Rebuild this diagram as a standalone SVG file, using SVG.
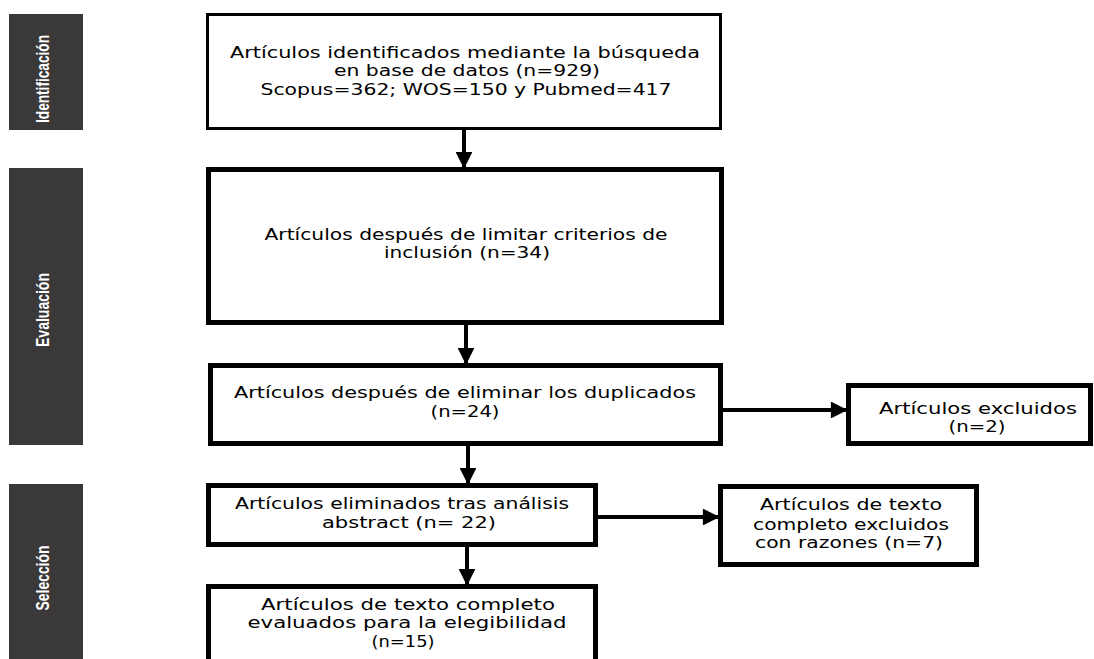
<svg xmlns="http://www.w3.org/2000/svg" width="1094" height="659" viewBox="0 0 1094 659">
<style>
.bar{fill:#3a3838}
.lab{font-family:"Liberation Sans",Arial,sans-serif;font-weight:bold;font-size:18px;fill:#fff;text-anchor:middle}
.box{fill:#fff;stroke:#000;stroke-width:5}
.t{font-family:"DejaVu Sans","Liberation Sans",sans-serif;font-size:15px;fill:#000;text-anchor:middle}
.ln{stroke:#000;stroke-width:4;fill:none}
</style>
<defs>
<marker id="ah" viewBox="0 0 10 10" refX="9" refY="5" markerWidth="4.5" markerHeight="4.2" markerUnits="strokeWidth" orient="auto">
<path d="M0,0 L10,5 L0,10 Z" fill="#000"/>
</marker>
</defs>
<rect width="1094" height="659" fill="#fff"/>
<g id="stage-identificacion">
<rect class="bar" x="9" y="14" width="74" height="116"/>
<text class="lab" transform="translate(49,79) rotate(-90)" textLength="88" lengthAdjust="spacingAndGlyphs">Identificación</text>
</g>
<g id="stage-evaluacion">
<rect class="bar" x="9" y="168" width="74" height="277"/>
<text class="lab" transform="translate(49,310) rotate(-90)" textLength="74" lengthAdjust="spacingAndGlyphs">Evaluación</text>
</g>
<g id="stage-seleccion">
<rect class="bar" x="9" y="484" width="74" height="180"/>
<text class="lab" transform="translate(49,578) rotate(-90)" textLength="65" lengthAdjust="spacingAndGlyphs">Selección</text>
</g>
<g id="connectors">
<line class="ln" x1="464" y1="130" x2="464" y2="167" marker-end="url(#ah)"/>
<line class="ln" x1="466" y1="325" x2="466" y2="363" marker-end="url(#ah)"/>
<line class="ln" x1="468" y1="446" x2="468" y2="483" marker-end="url(#ah)"/>
<line class="ln" x1="467" y1="547" x2="467" y2="584" marker-end="url(#ah)"/>
<line class="ln" x1="723" y1="410" x2="846" y2="410" marker-end="url(#ah)"/>
<line class="ln" x1="598" y1="517" x2="718" y2="517" marker-end="url(#ah)"/>
</g>
<g id="n1">
<rect class="box" x="207.5" y="14.5" width="513" height="114" style="stroke-width:3"/>
<text class="t" x="465" y="58" textLength="470" lengthAdjust="spacingAndGlyphs">Artículos identificados mediante la búsqueda</text>
<text class="t" x="467" y="76" textLength="266" lengthAdjust="spacingAndGlyphs">en base de datos (n=929)</text>
<text class="t" x="466" y="95" textLength="411" lengthAdjust="spacingAndGlyphs">Scopus=362; WOS=150 y Pubmed=417</text>
</g>
<g id="n2">
<rect class="box" x="208.5" y="169.5" width="513" height="153"/>
<text class="t" x="466" y="240" textLength="403" lengthAdjust="spacingAndGlyphs">Artículos después de limitar criterios de</text>
<text class="t" x="467" y="258" textLength="166" lengthAdjust="spacingAndGlyphs">inclusión (n=34)</text>
</g>
<g id="n3">
<rect class="box" x="210.5" y="365.5" width="510" height="78"/>
<text class="t" x="465" y="398" textLength="462" lengthAdjust="spacingAndGlyphs">Artículos después de eliminar los duplicados</text>
<text class="t" x="465" y="417" textLength="69" lengthAdjust="spacingAndGlyphs">(n=24)</text>
</g>
<g id="n-excluidos">
<rect class="box" x="848.5" y="385.5" width="242" height="58"/>
<text class="t" x="978" y="414" textLength="198" lengthAdjust="spacingAndGlyphs">Artículos excluidos</text>
<text class="t" x="977" y="432" textLength="57" lengthAdjust="spacingAndGlyphs">(n=2)</text>
</g>
<g id="n4">
<rect class="box" x="208.5" y="485.5" width="387" height="59"/>
<text class="t" x="402" y="509" textLength="334" lengthAdjust="spacingAndGlyphs">Artículos eliminados tras análisis</text>
<text class="t" x="409" y="528" textLength="174" lengthAdjust="spacingAndGlyphs">abstract (n= 22)</text>
</g>
<g id="n-texto-excluidos">
<rect class="box" x="720.5" y="486.5" width="256" height="78"/>
<text class="t" x="851" y="510" textLength="182" lengthAdjust="spacingAndGlyphs">Artículos de texto</text>
<text class="t" x="851" y="530" textLength="196" lengthAdjust="spacingAndGlyphs">completo excluidos</text>
<text class="t" x="849" y="548" textLength="188" lengthAdjust="spacingAndGlyphs">con razones (n=7)</text>
</g>
<g id="n5">
<rect class="box" x="208.5" y="586.5" width="387" height="100"/>
<text class="t" x="408" y="610" textLength="294" lengthAdjust="spacingAndGlyphs">Artículos de texto completo</text>
<text class="t" x="407" y="628" textLength="319" lengthAdjust="spacingAndGlyphs">evaluados para la elegibilidad</text>
<text class="t" x="403" y="647" textLength="63" lengthAdjust="spacingAndGlyphs">(n=15)</text>
</g>
</svg>
